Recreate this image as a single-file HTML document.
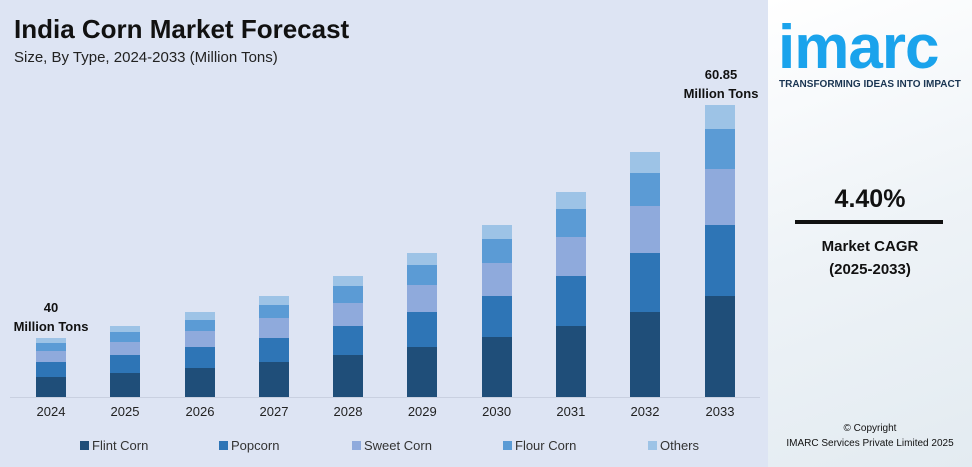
<!DOCTYPE html>
<html><head><meta charset="utf-8"><style>
body{margin:0;width:972px;height:467px;overflow:hidden;font-family:"Liberation Sans",sans-serif;background:#fff;position:relative}
.panel{position:absolute;left:0;top:0;width:768px;height:467px;background:#dde4f3}
.right{position:absolute;left:768px;top:0;width:204px;height:467px;background:linear-gradient(160deg,#ffffff 0%,#eef3f7 50%,#e3ebf1 100%)}
.t{position:absolute;white-space:nowrap}
.bar{position:absolute;width:30px}
.seg{position:absolute;left:0;width:30px}
.yl{position:absolute;top:404px;font-size:13px;color:#222;width:60px;text-align:center}
.lg{position:absolute;top:438px;font-size:13px;color:#333}
.lg i{display:inline-block;width:9px;height:9px;margin-right:3px;vertical-align:0}
</style></head><body>
<div class="panel"></div>
<div class="right"></div>
<div class="t" style="left:14px;top:14px;font-size:26px;font-weight:bold;color:#111">India Corn Market Forecast</div>
<div class="t" style="left:14px;top:49px;font-size:15px;color:#222">Size, By Type, 2024-2033 (Million Tons)</div>
<div style="position:absolute;left:10px;top:397px;width:750px;height:1px;background:#c9d0e0"></div>
<div id="bars"></div>
<div class="t" style="left:10px;top:298px;width:82px;text-align:center;font-size:13px;font-weight:bold;line-height:19px;color:#111">40<br>Million Tons</div>
<div class="t" style="left:676px;top:65px;width:90px;text-align:center;font-size:13px;font-weight:bold;line-height:19px;color:#111">60.85<br>Million Tons</div>
<div class="lg" style="left:80px"><i style="background:#1f4e79"></i>Flint Corn</div>
<div class="lg" style="left:219px"><i style="background:#2e75b6"></i>Popcorn</div>
<div class="lg" style="left:352px"><i style="background:#8faadc"></i>Sweet Corn</div>
<div class="lg" style="left:503px"><i style="background:#5b9bd5"></i>Flour Corn</div>
<div class="lg" style="left:648px"><i style="background:#9dc3e6"></i>Others</div>
<div class="t" style="left:778px;top:12px;font-size:62px;font-weight:bold;color:#1aa3ec;letter-spacing:-1px">imarc</div>
<div class="t" style="left:779px;top:79px;font-size:10px;font-weight:bold;color:#1a3552">TRANSFORMING IDEAS INTO IMPACT</div>
<div class="t" style="left:768px;top:185px;width:204px;text-align:center;font-size:25px;font-weight:bold;color:#111">4.40%</div>
<div style="position:absolute;left:795px;top:220px;width:148px;height:4px;background:#111"></div>
<div class="t" style="left:768px;top:235px;width:204px;text-align:center;font-size:15px;font-weight:bold;line-height:23px;color:#111">Market CAGR<br>(2025-2033)</div>
<div class="t" style="left:768px;top:421px;width:204px;text-align:center;font-size:10px;line-height:15px;color:#111">© Copyright<br>IMARC Services Private Limited 2025</div>
<script>
var data=[[51,2024,[397,377,362,351,343,338]],[125,2025,[397,373,355,342,332,326]],[200,2026,[397,368,347,331,320,312]],[274,2027,[397,362,338,318,305,296]]];
var tops=[276,253,225,192];
for(var k=0;k<4;k++){var T=tops[k],h=397-T,p=[0.346,0.243,0.19,0.137],y=397,a=[397];for(var j=0;j<4;j++){y-=h*p[j];a.push(Math.round(y));}a.push(T);data.push([348+k*74.3,2028+k,a]);}
data.push([645,2032,[397,312,253,206,173,152]]);data.push([720,2033,[397,296,225,169,129,105]]);
var c=["#1f4e79","#2e75b6","#8faadc","#5b9bd5","#9dc3e6"],h="";
data.forEach(function(d){var x=d[0]-15,s=d[2];for(var i=0;i<5;i++){h+='<div class="seg" style="left:'+x+'px;top:'+s[i+1]+'px;height:'+(s[i]-s[i+1])+'px;background:'+c[i]+'"></div>';}h+='<div class="yl" style="left:'+(d[0]-30)+'px">'+d[1]+'</div>';});
document.getElementById("bars").innerHTML=h.replace(/class="seg"/g,'class="bar"');
</script>
</body></html>
